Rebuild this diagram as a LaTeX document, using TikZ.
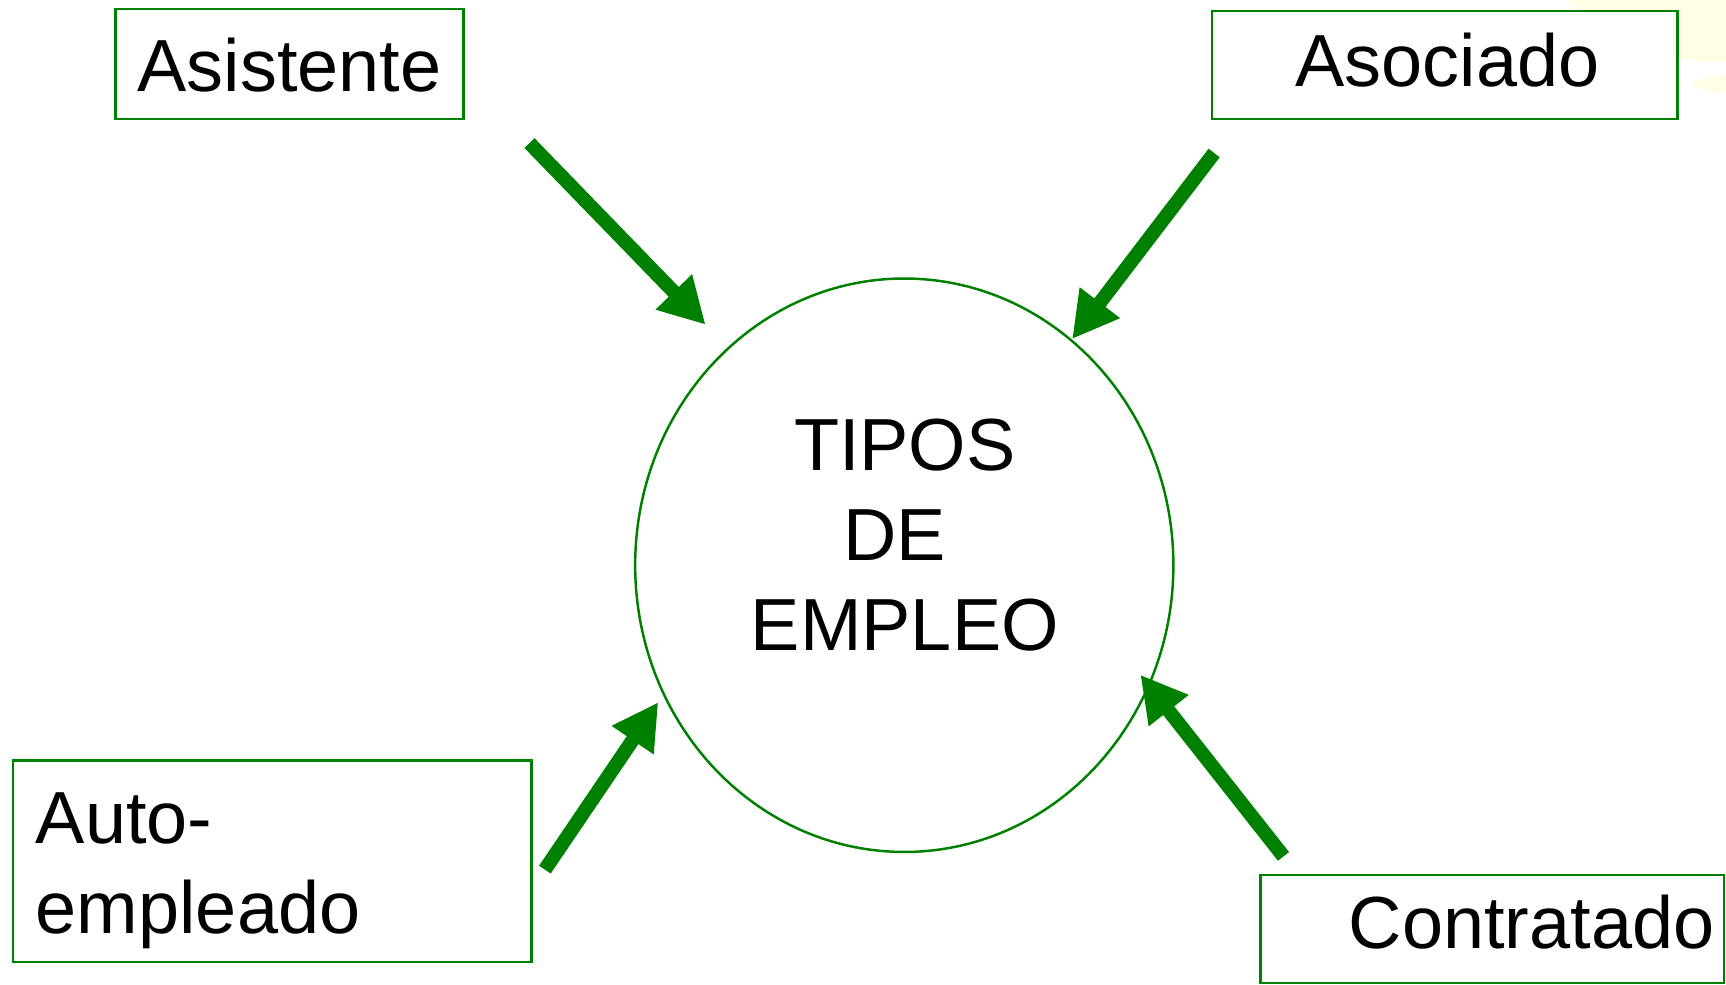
\documentclass[tikz,border=0pt]{standalone}
\usepackage{fontspec}
\setmainfont{Liberation Sans}
\usetikzlibrary{arrows.meta,fit,shapes.geometric}
\definecolor{dgreen}{RGB}{0,128,0}
\definecolor{paleyellow}{RGB}{255,253,228}
\begin{document}
\begin{tikzpicture}[x=0.011cm,y=-0.011cm,
  box/.style={draw=dgreen, line width=0.7pt, fill=white, inner sep=0pt},
  lbl/.style={inner sep=0pt, font=\fontsize{21}{25.7}\selectfont},
  flow/.style={draw=dgreen, line width=4pt, -{Triangle[length=13pt,width=13.5pt]}}]
\useasboundingbox (0,0) rectangle (1568,894);
% pale background decoration
\fill[paleyellow] (1560,-138) circle [radius=2.134cm];
\fill[paleyellow] (1580,76) ellipse [x radius=0.462cm, y radius=0.088cm];
% boxes
\node[box, fit={(105,8) (421,108)}] (asis) {};
\node[box, fit={(1101,10) (1524,108)}] (asoc) {};
\node[box, fit={(12,691) (483,874)}] (auto) {};
\node[box, fit={(1145,795) (1566,893)}] (cont) {};
% centre ellipse
\node[draw=dgreen, line width=0.7pt, ellipse, inner sep=0pt,
      minimum width=5.379cm, minimum height=5.731cm] (circ) at (821.5,513.5) {};
% texts
\node[lbl, anchor=base] (tasis) at (263,83) {Asistente};
\node[lbl, anchor=base] (tasoc) at (1315,79) {Asociado};
\node[lbl, anchor=base east] (tcont) at (1558,862) {Contratado};
\node[lbl, align=left, anchor=west] (tauto) at (32,791) {Auto-\\empleado};
\node[lbl, align=center] (ttipos) at (822,486) {TIPOS\\DE\kern0.278em\\EMPLEO};
% arrows
\coordinate (t1) at (481,130); \coordinate (h1) at (641,295);
\coordinate (t2) at (1103,139); \coordinate (h2) at (974,308);
\coordinate (t3) at (495,790); \coordinate (h3) at (598,638);
\coordinate (t4) at (1166,778); \coordinate (h4) at (1036,613);
\draw[flow] (t1) -- (h1);
\draw[flow] (t2) -- (h2);
\draw[flow] (t3) -- (h3);
\draw[flow] (t4) -- (h4);
\end{tikzpicture}
\end{document}
